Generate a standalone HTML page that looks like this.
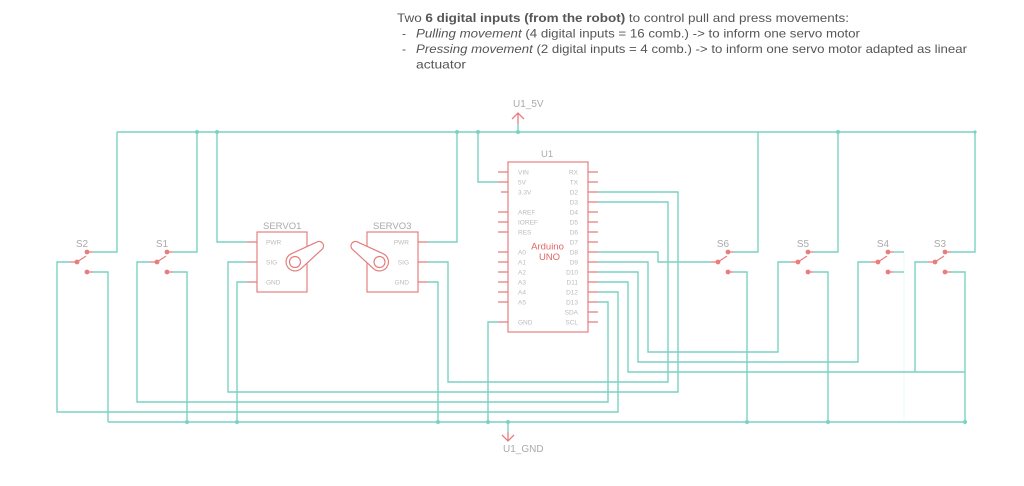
<!DOCTYPE html>
<html>
<head>
<meta charset="utf-8">
<style>
  html, body { margin: 0; padding: 0; background: #fff; }
  body { width: 1024px; height: 486px; overflow: hidden; }
  svg { display: block; }
  .t { font-family: "Liberation Sans", sans-serif; }
</style>
</head>
<body>
<svg width="1024" height="486" viewBox="0 0 1024 486" xmlns="http://www.w3.org/2000/svg">
  <!-- Title text -->
  <g class="t" fill="#555" font-size="12">
    <text x="397" y="22" textLength="452" lengthAdjust="spacingAndGlyphs">Two <tspan font-weight="bold">6 digital inputs (from the robot)</tspan> to control pull and press movements:</text>
    <text x="402" y="37.5">-</text>
    <text x="416" y="37.5" textLength="444" lengthAdjust="spacingAndGlyphs"><tspan font-style="italic">Pulling movement</tspan> (4 digital inputs = 16 comb.) -&gt; to inform one servo motor</text>
    <text x="402" y="53">-</text>
    <text x="416" y="53" textLength="551" lengthAdjust="spacingAndGlyphs"><tspan font-style="italic">Pressing movement</tspan> (2 digital inputs = 4 comb.) -&gt; to inform one servo motor adapted as linear</text>
    <text x="416" y="68.5" textLength="50" lengthAdjust="spacingAndGlyphs">actuator</text>
  </g>

  <!-- Wires -->
  <g fill="none" stroke="#7ad2c3" stroke-width="1.4">
    <!-- top rail -->
    <path d="M117 132 H975"/>
    <!-- bottom GND rail -->
    <path d="M108 422 H965"/>
    <!-- S2 -->
    <path d="M93 252 H117 V132"/>
    <path d="M93 272 H108 V422"/>
    <!-- S1 -->
    <path d="M173 252 H197 V132"/>
    <path d="M173 272 H187 V422"/>
    <!-- SERVO1 -->
    <path d="M217 132 V242 H247"/>
    <path d="M247 262 H228 V392 H678 V192 H598"/>
    <path d="M247 282 H237 V422"/>
    <!-- SERVO3 -->
    <path d="M428 242 H457 V132"/>
    <path d="M428 262 H448 V382 H668 V202 H598"/>
    <path d="M428 282 H438 V422"/>
    <!-- Arduino 5V / GND -->
    <path d="M478 132 V182 H498"/>
    <path d="M498 322 H488 V422"/>
    <path d="M518 132 V124"/>
    <path d="M508 422 V432"/>
    <!-- D8 -> S6 -->
    <path d="M598 252 H658 V262 H711"/>
    <!-- D9 -> S5 -->
    <path d="M598 262 H648 V352 H778 V262 H791"/>
    <!-- D10 -> S4 -->
    <path d="M598 272 H638 V362 H858 V262 H871"/>
    <!-- D11 -> S3 -->
    <path d="M598 282 H628 V372 H965"/>
    <path d="M928 262 H915 V372"/>
    <!-- D12 -> S2 -->
    <path d="M598 292 H618 V412 H57 V262 H70"/>
    <!-- D13 -> S1 -->
    <path d="M598 302 H608 V402 H137 V262 H150"/>
    <!-- S6 -->
    <path d="M734 252 H758 V132"/>
    <path d="M734 272 H747 V422"/>
    <!-- S5 -->
    <path d="M814 252 H838 V132"/>
    <path d="M814 272 H828 V422"/>
    <!-- S4 -->
    <path d="M894 252 H904"/>
    <path d="M894 272 H904"/>
    <!-- S3 -->
    <path d="M951 252 H975 V132"/>
    <path d="M951 272 H965 V422"/>
  </g>
  <path d="M904 252 V422" stroke="#7ad2c3" stroke-width="0.6" opacity="0.25" fill="none"/>

  <!-- Junction dots -->
  <g fill="#7ad2c3">
    <circle cx="197" cy="132" r="2"/>
    <circle cx="217" cy="132" r="2"/>
    <circle cx="457" cy="132" r="2"/>
    <circle cx="478" cy="132" r="2"/>
    <circle cx="518" cy="132" r="2"/>
    <circle cx="838" cy="132" r="2"/>
    <circle cx="975" cy="132" r="1.6"/>
    <circle cx="187" cy="422" r="2"/>
    <circle cx="237" cy="422" r="2"/>
    <circle cx="438" cy="422" r="2"/>
    <circle cx="488" cy="422" r="2"/>
    <circle cx="508" cy="422" r="2"/>
    <circle cx="747" cy="422" r="2"/>
    <circle cx="828" cy="422" r="2"/>
    <circle cx="965" cy="422" r="2"/>
  </g>

  <!-- Power symbols -->
  <g stroke="#e57e7e" stroke-width="1.3" fill="none">
    <path d="M518 124 V113 M512 119 L518 113 L524 119"/>
    <path d="M508 432 V441 M502 435 L508 441 L514 435"/>
  </g>
  <g class="t" fill="#aaa" font-size="10">
    <text x="513" y="107">U1_5V</text>
    <text x="503" y="452">U1_GND</text>
  </g>

  <!-- Switches -->
  <g stroke="#e57e7e" stroke-width="1.2" fill="#e57e7e">
    <!-- S2 cx=77 -->
    <path d="M70 262 H77 M77 262 L86 256 M87 252 H93 M87 272 H93" fill="none"/>
    <circle cx="77" cy="262" r="1.8"/><circle cx="87" cy="252" r="1.8"/><circle cx="87" cy="272" r="1.8"/>
    <!-- S1 cx=157 -->
    <path d="M150 262 H157 M157 262 L166 256 M167 252 H173 M167 272 H173" fill="none"/>
    <circle cx="157" cy="262" r="1.8"/><circle cx="167" cy="252" r="1.8"/><circle cx="167" cy="272" r="1.8"/>
    <!-- S6 cx=718 -->
    <path d="M711 262 H718 M718 262 L727 256 M728 252 H734 M728 272 H734" fill="none"/>
    <circle cx="718" cy="262" r="1.8"/><circle cx="728" cy="252" r="1.8"/><circle cx="728" cy="272" r="1.8"/>
    <!-- S5 cx=798 -->
    <path d="M791 262 H798 M798 262 L807 256 M808 252 H814 M808 272 H814" fill="none"/>
    <circle cx="798" cy="262" r="1.8"/><circle cx="808" cy="252" r="1.8"/><circle cx="808" cy="272" r="1.8"/>
    <!-- S4 cx=878 -->
    <path d="M871 262 H878 M878 262 L887 256 M888 252 H894 M888 272 H894" fill="none"/>
    <circle cx="878" cy="262" r="1.8"/><circle cx="888" cy="252" r="1.8"/><circle cx="888" cy="272" r="1.8"/>
    <!-- S3 cx=935 -->
    <path d="M928 262 H935 M935 262 L944 256 M945 252 H951 M945 272 H951" fill="none"/>
    <circle cx="935" cy="262" r="1.8"/><circle cx="945" cy="252" r="1.8"/><circle cx="945" cy="272" r="1.8"/>
  </g>
  <g class="t" fill="#aaa" font-size="10" text-anchor="middle">
    <text x="82" y="247">S2</text>
    <text x="162" y="247">S1</text>
    <text x="723" y="247">S6</text>
    <text x="803" y="247">S5</text>
    <text x="883" y="247">S4</text>
    <text x="940" y="247">S3</text>
  </g>

  <!-- SERVO1 -->
  <g stroke="#e57e7e" stroke-width="1.2" fill="none">
    <rect x="257" y="232" width="50" height="60"/>
    <path d="M247 242 H257 M247 262 H257 M247 282 H257"/>
    <g transform="translate(295,262)">
      <path d="M6.1 6.6 L27.05 -12.7 A4.5 4.5 0 0 0 22.1 -20.1 L-3.8 -8.2 A9 9 0 1 0 6.1 6.6 Z" fill="#fff"/>
      <circle cx="0" cy="0" r="5.5"/>
    </g>
  </g>
  <!-- SERVO3 -->
  <g stroke="#e57e7e" stroke-width="1.2" fill="none">
    <rect x="367" y="232" width="51" height="60"/>
    <path d="M418 242 H428 M418 262 H428 M418 282 H428"/>
    <g transform="translate(379.5,262) scale(-1,1)">
      <path d="M6.1 6.6 L27.05 -12.7 A4.5 4.5 0 0 0 22.1 -20.1 L-3.8 -8.2 A9 9 0 1 0 6.1 6.6 Z" fill="#fff"/>
      <circle cx="0" cy="0" r="5.5"/>
    </g>
  </g>
  <g class="t" fill="#aaa" font-size="9.5">
    <text x="263" y="229">SERVO1</text>
    <text x="373" y="229">SERVO3</text>
  </g>
  <g class="t" fill="#bbb" font-size="6.5">
    <text x="266" y="244.5">PWR</text>
    <text x="266" y="264.5">SIG</text>
    <text x="266" y="284.5">GND</text>
    <g text-anchor="end">
      <text x="409" y="244.5">PWR</text>
      <text x="409" y="264.5">SIG</text>
      <text x="409" y="284.5">GND</text>
    </g>
  </g>

  <!-- Arduino -->
  <g stroke="#e57e7e" stroke-width="1.2" fill="none">
    <rect x="508" y="162" width="80" height="170"/>
    <path d="M498 172 H508 M498 182 H508 M501 192 H508 M498 212 H508 M498 222 H508 M498 232 H508 M498 252 H508 M498 262 H508 M498 272 H508 M498 282 H508 M498 292 H508 M498 302 H508 M498 322 H508"/>
    <path d="M588 172 H598 M588 182 H598 M588 192 H598 M588 202 H598 M588 212 H598 M588 222 H598 M588 232 H598 M588 242 H598 M588 252 H598 M588 262 H598 M588 272 H598 M588 282 H598 M588 292 H598 M588 302 H598 M588 312 H598 M588 322 H598"/>
  </g>
  <g class="t" fill="#aaa" font-size="9.5">
    <text x="541" y="157">U1</text>
  </g>
  <g class="t" fill="#e06666" font-size="9.5" text-anchor="middle">
    <text x="547.5" y="249.5">Arduino</text>
    <text x="549.5" y="260">UNO</text>
  </g>
  <g class="t" fill="#bbb" font-size="6.5">
    <text x="518" y="174.3">VIN</text>
    <text x="518" y="184.3">5V</text>
    <text x="518" y="194.3">3.3V</text>
    <text x="518" y="214.3">AREF</text>
    <text x="518" y="224.3">IOREF</text>
    <text x="518" y="234.3">RES</text>
    <text x="518" y="254.3">A0</text>
    <text x="518" y="264.3">A1</text>
    <text x="518" y="274.3">A2</text>
    <text x="518" y="284.3">A3</text>
    <text x="518" y="294.3">A4</text>
    <text x="518" y="304.3">A5</text>
    <text x="518" y="324.3">GND</text>
    <g text-anchor="end">
      <text x="578" y="174.3">RX</text>
      <text x="578" y="184.3">TX</text>
      <text x="578" y="194.3">D2</text>
      <text x="578" y="204.3">D3</text>
      <text x="578" y="214.3">D4</text>
      <text x="578" y="224.3">D5</text>
      <text x="578" y="234.3">D6</text>
      <text x="578" y="244.3">D7</text>
      <text x="578" y="254.3">D8</text>
      <text x="578" y="264.3">D9</text>
      <text x="578" y="274.3">D10</text>
      <text x="578" y="284.3">D11</text>
      <text x="578" y="294.3">D12</text>
      <text x="578" y="304.3">D13</text>
      <text x="578" y="314.3">SDA</text>
      <text x="578" y="324.3">SCL</text>
    </g>
  </g>
</svg>
</body>
</html>
